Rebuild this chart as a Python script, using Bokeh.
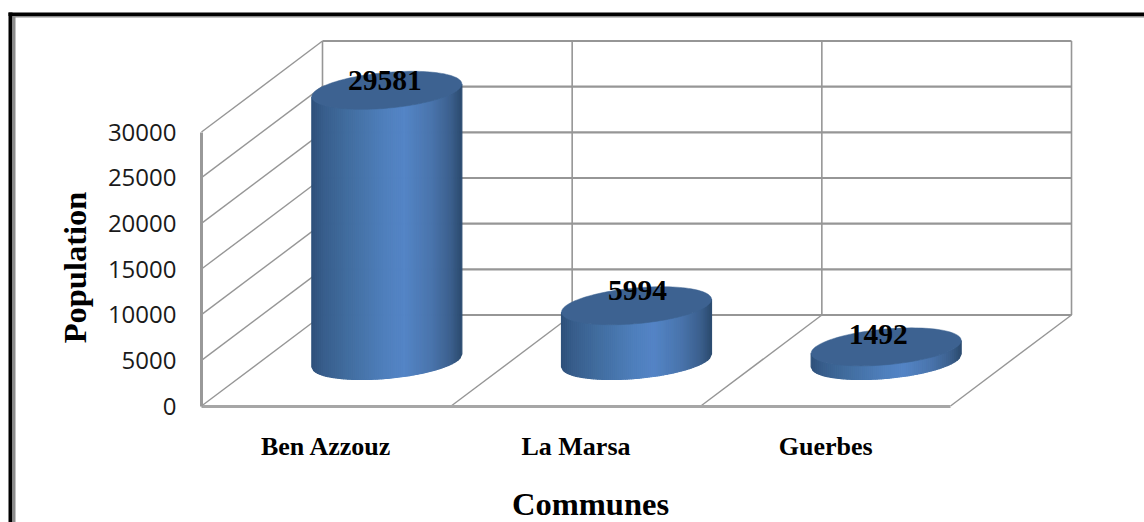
import numpy as np
from bokeh.core.properties import value
from bokeh.embed import file_html
from bokeh.models import ColumnDataSource, FixedTicker, Label, LinearAxis, Range1d
from bokeh.plotting import figure
from bokeh.resources import INLINE

# Population per commune
communes = ["Ben Azzouz", "La Marsa", "Guerbes"]
population = [29581, 5994, 1492]
y_ticks = [0, 5000, 10000, 15000, 20000, 25000, 30000]

WIDTH, HEIGHT = 1144, 522
ORIGIN_X, ORIGIN_Y = 201, 405.5           # pixel position of the chart origin
PX_PER_CATEGORY = 249.67
PX_PER_UNIT = 274 / 30000

# Oblique projection: how far the back wall is shifted from the front plane
DEPTH_X = 121 / PX_PER_CATEGORY
DEPTH_Y = 91 / PX_PER_UNIT
# Cylinder radius along the category axis and as a share of the floor depth
RADIUS_X = 70.6 / PX_PER_CATEGORY
RADIUS_DEPTH = 0.209


def data_x(px):
    return (px - ORIGIN_X) / PX_PER_CATEGORY


def data_y(py):
    return (ORIGIN_Y - py) / PX_PER_UNIT


p = figure(
    width=WIDTH, height=HEIGHT, output_backend="svg", toolbar_location=None,
    x_axis_type=None, y_axis_type=None,
    x_range=Range1d(data_x(0), data_x(WIDTH)), y_range=Range1d(data_y(HEIGHT), data_y(0)),
    min_border=0,
    background_fill_color="white", border_fill_color="white",
    outline_line_color=None,
)
p.grid.visible = False

# Double rule on the top and left edges
rule_left = [8, 12, 8, 12]
rule_right = [WIDTH, WIDTH, 12, 15]
rule_top = [12, 15.5, 12, 15.5]
rule_bottom = [15.5, 17, HEIGHT, HEIGHT]
p.quad(
    left=[data_x(v) for v in rule_left], right=[data_x(v) for v in rule_right],
    top=[data_y(v) for v in rule_top], bottom=[data_y(v) for v in rule_bottom],
    fill_color=["black", "#8c8c8c", "black", "#8c8c8c"], line_color=None,
)

GRID = "#969696"
n_cat = len(communes)
top_tick = y_ticks[-1]

# Back wall: horizontal rules and category dividers
p.multi_line(
    [[DEPTH_X, n_cat + DEPTH_X] for _ in y_ticks],
    [[t + DEPTH_Y, t + DEPTH_Y] for t in y_ticks],
    line_color=GRID, line_width=2.2,
)
p.multi_line(
    [[i + DEPTH_X, i + DEPTH_X] for i in range(n_cat + 1)],
    [[DEPTH_Y, top_tick + DEPTH_Y] for _ in range(n_cat + 1)],
    line_color=GRID, line_width=1.6,
)
# Side wall diagonals and floor dividers
p.multi_line(
    [[0, DEPTH_X] for _ in y_ticks],
    [[t, t + DEPTH_Y] for t in y_ticks],
    line_color=GRID, line_width=1.4,
)
p.multi_line(
    [[i, i + DEPTH_X] for i in range(1, n_cat + 1)],
    [[0, DEPTH_Y] for _ in range(1, n_cat + 1)],
    line_color=GRID, line_width=1.4,
)

# Cylinder shading, left to right across the visible face
SHADE_POS = [0.0, 0.08, 0.25, 0.5, 0.62, 0.8, 0.93, 1.0]
SHADE_R = [0x2e, 0x38, 0x42, 0x50, 0x54, 0x4a, 0x3c, 0x2c]
SHADE_G = [0x50, 0x5e, 0x6e, 0x80, 0x85, 0x75, 0x60, 0x4b]
SHADE_B = [0x7a, 0x8c, 0xa0, 0xbe, 0xc6, 0xad, 0x8e, 0x70]


def shade(f):
    r = int(np.interp(f, SHADE_POS, SHADE_R))
    g = int(np.interp(f, SHADE_POS, SHADE_G))
    b = int(np.interp(f, SHADE_POS, SHADE_B))
    return f"#{r:02x}{g:02x}{b:02x}"


radius_dx = RADIUS_DEPTH * DEPTH_X
radius_dy = RADIUS_DEPTH * DEPTH_Y
half_extent = np.hypot(RADIUS_X, radius_dx)
t_right = np.arctan2(radius_dx, RADIUS_X)


def rim(cx, level, t):
    return (cx + RADIUS_X * np.cos(t) + radius_dx * np.sin(t),
            level + 0.5 * DEPTH_Y + radius_dy * np.sin(t))


strip_xs, strip_ys, strip_colours = [], [], []
cap_xs, cap_ys = [], []
for i, pop in enumerate(population):
    cx = i + 0.5 + 0.5 * DEPTH_X
    # Strips of even width across the face, each following the front rim
    edges = np.linspace(-half_extent, half_extent, 76)
    front = np.arccos(np.clip(edges / half_extent, -1, 1))
    angles = t_right + 2 * np.pi - front
    for t0, t1 in zip(angles[:-1], angles[1:]):
        x0, top0 = rim(cx, pop, t0)
        x1, top1 = rim(cx, pop, t1)
        _, base0 = rim(cx, 0, t0)
        _, base1 = rim(cx, 0, t1)
        strip_xs.append([x0, x1, x1, x0])
        strip_ys.append([top0, top1, base1, base0])
        strip_colours.append(shade((0.5 * (x0 + x1) - cx + half_extent) / (2 * half_extent)))
    xs, ys = rim(cx, pop, np.linspace(0, 2 * np.pi, 121))
    cap_xs.append(xs.tolist())
    cap_ys.append(ys.tolist())

p.patches(strip_xs, strip_ys, fill_color=strip_colours, line_color=strip_colours, line_width=1.2)
p.patches(cap_xs, cap_ys, fill_color="#3d6291", line_color="#3d6291", line_width=0.5)

# Value labels above each cylinder top
value_labels = ColumnDataSource(dict(
    x=[i + 0.5 + 0.5 * DEPTH_X for i in range(n_cat)],
    y=[v + 0.5 * DEPTH_Y for v in population],
    text=[str(v) for v in population],
    dx=[-2, 1, -8],
    dy=[-10, -15, -12],
))
p.text(
    "x", "y", text="text", source=value_labels, x_offset="dx", y_offset="dy",
    text_font=value("Liberation Serif"), text_font_style="bold", text_font_size="29.5px",
    text_color="black", text_align="center", text_baseline="middle",
)

# Value axis pinned to the front-left edge
y_axis = LinearAxis(
    ticker=FixedTicker(ticks=y_ticks), bounds=(0, top_tick), fixed_location=0,
    axis_line_color="#999999", axis_line_width=3,
    major_tick_line_color=None, minor_tick_line_color=None,
    major_label_standoff=19,
    major_label_text_font="Open Sans", major_label_text_font_size="24px",
    major_label_text_color="#1a1a1a",
)
p.add_layout(y_axis, "left")

# Category axis pinned to the front of the floor
x_axis = LinearAxis(
    ticker=FixedTicker(ticks=[i + 0.5 for i in range(n_cat)]), bounds=(0, n_cat), fixed_location=0,
    major_label_overrides={i + 0.5: name for i, name in enumerate(communes)},
    axis_line_color="#a6a6a6", axis_line_width=3,
    major_tick_line_color=None, minor_tick_line_color=None,
    major_label_standoff=20,
    major_label_text_font="Liberation Serif", major_label_text_font_style="bold",
    major_label_text_font_size="26px", major_label_text_color="black",
)
p.add_layout(x_axis, "below")

# Axis titles
p.add_layout(Label(
    x=data_x(74), y=data_y(267), text="Population", angle=np.pi / 2,
    text_font="Liberation Serif", text_font_style="bold", text_font_size="32.5px",
    text_color="black", text_align="center", text_baseline="middle",
))
p.add_layout(Label(
    x=data_x(590), y=data_y(503.5), text="Communes",
    text_font="Liberation Serif", text_font_style="bold", text_font_size="32.5px",
    text_color="black", text_align="center", text_baseline="middle",
))

open("out.html", "w").write(file_html(p, INLINE))
